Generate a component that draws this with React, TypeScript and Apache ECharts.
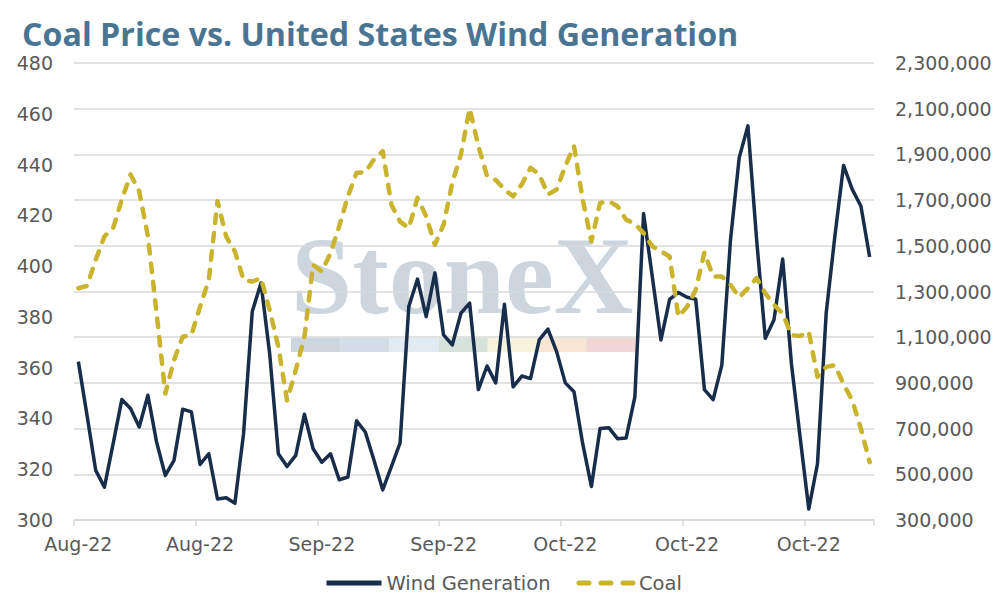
import React, { useEffect, useRef } from "react";
import * as echarts from "echarts";

const tickLabels = ["Aug-22", "Aug-22", "Sep-22", "Sep-22", "Oct-22", "Oct-22", "Oct-22"];
const TICK_EVERY = 14;

const wind = [
  993000, 758000, 517000, 444000, 634000, 827000, 788000, 707000, 846000, 641000,
  495000, 561000, 785000, 773000, 543000, 590000, 392000, 397000, 373000, 678000,
  1212000, 1337000, 1029000, 590000, 534000, 583000, 763000, 612000, 553000, 590000,
  476000, 488000, 734000, 685000, 561000, 432000, 534000, 637000, 1234000, 1354000,
  1190000, 1381000, 1110000, 1066000, 1205000, 1249000, 871000, 974000, 900000, 1244000,
  883000, 930000, 919000, 1088000, 1135000, 1037000, 900000, 861000, 634000, 447000,
  700000, 704000, 656000, 659000, 839000, 1641000, 1366000, 1088000, 1266000, 1296000,
  1275000, 1266000, 871000, 827000, 978000, 1527000, 1886000, 2025000, 1527000, 1095000,
  1176000, 1442000, 985000, 663000, 348000, 546000, 1205000, 1542000, 1852000, 1747000,
  1673000, 1451000,
];

const coal = [
  391.3, 392.2, 402.5, 411.7, 415.0, 426.2, 436.1, 429.5, 411.7, 381.4,
  349.8, 363.0, 372.2, 372.8, 384.0, 394.6, 425.6, 411.7, 405.8, 394.6,
  393.9, 395.3, 382.7, 368.2, 347.1, 359.0, 372.2, 400.5, 397.9, 405.1,
  415.7, 427.5, 436.8, 437.0, 442.0, 445.3, 424.2, 417.5, 415.0, 426.9,
  419.6, 408.4, 416.3, 432.8, 444.0, 462.1, 447.3, 435.5, 433.9, 430.2,
  427.5, 432.2, 438.7, 436.1, 428.2, 430.2, 439.4, 447.3, 426.2, 409.8,
  424.9, 425.6, 423.6, 418.3, 416.7, 413.0, 407.8, 405.8, 403.8, 380.1,
  384.0, 390.6, 405.4, 395.9, 395.9, 392.6, 387.7, 391.3, 395.3, 389.3,
  384.7, 381.4, 372.8, 372.5, 374.2, 356.4, 360.3, 361.0, 353.5, 347.1,
  335.9, 322.8,
];

const categories = wind.map((_, i) => String(i));

const FONT = "DejaVu Sans";
const TITLE_FONT = "Open Sans";
const LABEL_COLOR = "#595959";
const GRID_COLOR = "#d9d9d9";
const WIND_COLOR = "#172d4a";
const COAL_COLOR = "#c9b42e";
const bandColors = ["#cdd5de", "#d3dde7", "#e0ebf4", "#d5e3dc", "#f6f3dc", "#f8e6d5", "#f1d6d6"];

export default function App() {
  const ref = useRef<HTMLDivElement>(null);

  useEffect(() => {
    document.body.style.margin = "0";
    const chart = echarts.init(ref.current as HTMLDivElement, null, { renderer: "svg" });

    const bandX = 291;
    const bandW = 49.2;
    const graphics: any[] = [
      {
        type: "text",
        x: 291,
        y: 276,
        z: -10,
        silent: true,
        style: {
          text: "StoneX",
          fontFamily: "Liberation Serif",
          fontWeight: "bold",
          fontSize: 110,
          fill: "#cdd6df",
          verticalAlign: "middle",
        },
      },
      ...bandColors.map((c, k) => ({
        type: "rect",
        z: -10,
        silent: true,
        shape: { x: bandX + k * bandW, y: 338, width: bandW, height: 14 },
        style: { fill: c },
      })),
    ];

    chart.setOption({
      animation: false,
      title: {
        text: "Coal Price vs. United States Wind Generation",
        left: 22,
        top: 17,
        padding: 0,
        textStyle: { fontFamily: TITLE_FONT, fontWeight: "bold", fontSize: 32.2, color: "#4a7592" },
      },
      graphic: graphics,
      grid: {
        left: 74,
        right: 120,
        top: 63,
        bottom: 80,
        containLabel: false,
        outerBoundsMode: "none",
        outerBounds: { left: 0, right: 0, top: 0, bottom: 0 },
      },
      legend: {
        left: 324,
        top: 573,
        padding: 0,
        itemWidth: 55,
        itemHeight: 20,
        itemGap: 26,
        textStyle: { fontFamily: FONT, fontSize: 19.5, color: LABEL_COLOR },
        data: [
          { name: "Wind Generation", lineStyle: { width: 5 }, itemStyle: { opacity: 0 } },
          { name: "Coal", lineStyle: { width: 5, type: [10, 12] }, itemStyle: { opacity: 0 } },
        ],
      },
      xAxis: {
        type: "category",
        data: categories,
        boundaryGap: true,
        axisLine: { show: true, lineStyle: { color: GRID_COLOR, width: 1.5 } },
        axisTick: { show: true, interval: TICK_EVERY - 1, length: 6, lineStyle: { color: GRID_COLOR, width: 1.5 } },
        axisLabel: {
          interval: TICK_EVERY - 1,
          margin: 14,
          color: LABEL_COLOR,
          fontFamily: FONT,
          fontSize: 19,
          formatter: (_v: string, i: number) => tickLabels[Math.round(i / TICK_EVERY)] ?? "",
        },
        splitLine: { show: false },
      },
      yAxis: [
        {
          type: "value",
          position: "left",
          min: 300,
          max: 480,
          interval: 20,
          splitLine: { show: false },
          axisLine: { show: false },
          axisTick: { show: false },
          axisLabel: { margin: 21, align: "right", color: LABEL_COLOR, fontFamily: FONT, fontSize: 19 },
        },
        {
          type: "value",
          position: "right",
          min: 300000,
          max: 2300000,
          interval: 200000,
          splitLine: { show: true, lineStyle: { color: GRID_COLOR, width: 1.5 } },
          axisLine: { show: false },
          axisTick: { show: false },
          axisLabel: {
            margin: 21,
            align: "left",
            color: LABEL_COLOR,
            fontFamily: FONT,
            fontSize: 19,
            formatter: (v: number) => "{v|" + v.toLocaleString("en-US") + "}",
            rich: {
              v: { width: 97, align: "left", color: LABEL_COLOR, fontFamily: FONT, fontSize: 19 },
            },
          },
        },
      ],
      series: [
        {
          name: "Wind Generation",
          type: "line",
          yAxisIndex: 1,
          data: wind,
          symbol: "none",
          lineStyle: { color: WIND_COLOR, width: 3.5, join: "round" },
          itemStyle: { color: WIND_COLOR },
        },
        {
          name: "Coal",
          type: "line",
          yAxisIndex: 0,
          data: coal,
          symbol: "none",
          lineStyle: { color: COAL_COLOR, width: 4.5, type: [8.5, 10], cap: "round", join: "round" },
          itemStyle: { color: COAL_COLOR },
        },
      ],
    });

    return () => chart.dispose();
  }, []);

  return <div ref={ref} style={{ width: 994, height: 600 }} />;
}
